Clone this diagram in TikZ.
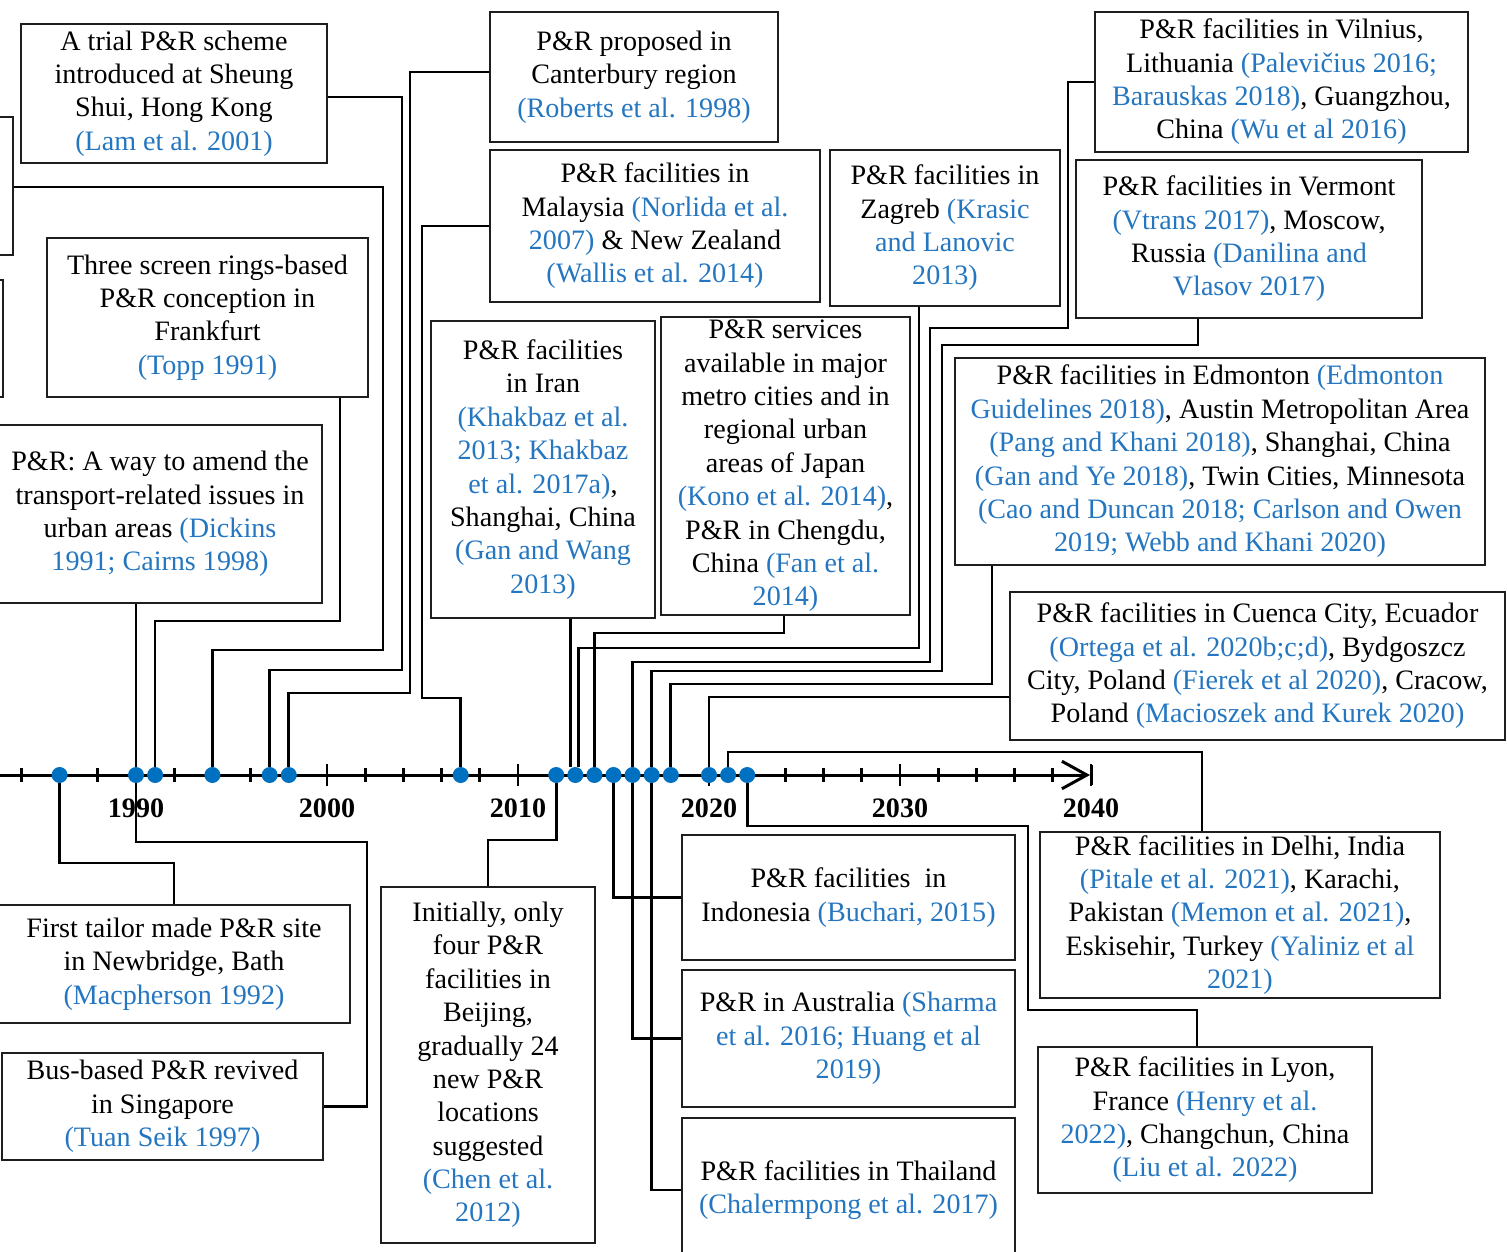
\documentclass[tikz,border=0pt]{standalone}
\usepackage{fontspec}
\setmainfont{Liberation Serif}
\usepackage{xcolor}
\usetikzlibrary{arrows.meta, calc}
\definecolor{prBlue}{RGB}{0,112,192}
\definecolor{prCite}{RGB}{36,118,192}
\definecolor{prInk}{RGB}{30,30,30}
\newcommand{\rf}[1]{\textcolor{prCite}{#1}}
\newcommand{\yx}[1]{136+(#1-1990)*19.1}

\begin{document}
\begin{tikzpicture}[
    x=0.02cm, y=-0.02cm,
    font=\fontsize{16}{19}\selectfont,
    ev/.style={draw=prInk, line width=1.1pt, align=center, inner sep=2pt},
    sz/.style 2 args={minimum width=#1*0.02cm, minimum height=#2*0.02cm},
    evdot/.style={circle, fill=prBlue, inner sep=0pt, minimum size=0.32cm},
    lnk/.style={line width=1.5pt, draw=black},
    yrlab/.style={font=\fontsize{16}{19}\selectfont\bfseries}
]
\useasboundingbox (0,0) rectangle (1507,1251);

% time axis
\draw[line width=1.7pt, -{Straight Barb[length=0.5cm, width=0.55cm, line width=1.7pt]}]
  (-20,775) -- (1090,775);
\draw[line width=1.7pt] (1091,765) -- (1091,785);
\foreach \yr in {1982,1984,...,2038}
  \draw[line width=1.5pt] ({\yx{\yr}},768) -- ({\yx{\yr}},782);
\foreach \yr in {1990,2000,2010,2020,2030,2040}{
  \draw[line width=1.5pt] ({\yx{\yr}},764) -- ({\yx{\yr}},786);
  \node[yrlab] (lab\yr) at ({\yx{\yr}},808) {\yr};
}
\foreach \yr in {1986,1990,1991,1994,1997,1998,2007,2012,2013,2014,
                 2015,2016,2017,2018,2020,2021,2022}
  \node[evdot] (d\yr) at ({\yx{\yr}},775) {};

% boxes above the axis
\node[ev, sz={133}{138}] (cutA) at (-53.5,186) {};
\node[ev, sz={123}{117}] (cutB) at (-58.5,338.5) {};
\node[ev, sz={306}{139}] (lam) at (174,93.5)
  {A trial P\&R scheme\\introduced at Sheung\\Shui, Hong Kong\\\rf{(Lam et al. 2001)}};
\node[ev, sz={288}{130}] (roberts) at (634,77)
  {P\&R proposed in\\Canterbury region\\\rf{(Roberts et al. 1998)}};
\node[ev, sz={330}{152}] (malay) at (655,226)
  {P\&R facilities in\\Malaysia \rf{(Norlida et al.}\\\rf{2007)} \& New Zealand\\\rf{(Wallis et al. 2014)}};
\node[ev, sz={230}{156}] (zagreb) at (945,228)
  {P\&R facilities in\\Zagreb \rf{(Krasic}\\\rf{and Lanovic}\\\rf{2013)}};
\node[ev, sz={373}{140}] (vilnius) at (1281.5,82)
  {P\&R facilities in Vilnius,\\Lithuania \rf{(Palevičius 2016;}\\\rf{Barauskas 2018)}, Guangzhou,\\China \rf{(Wu et al 2016)}};
\node[ev, sz={346}{158}] (vermont) at (1249,239)
  {P\&R facilities in Vermont\\\rf{(Vtrans 2017)}, Moscow,\\Russia \rf{(Danilina and}\\\rf{Vlasov 2017)}};
\node[ev, sz={321}{159}] (topp) at (207.5,317.5)
  {Three screen rings-based\\P\&R conception in\\Frankfurt\\\rf{(Topp 1991)}};
\node[ev, sz={224}{297}] (iran) at (543,469.5)
  {P\&R facilities\\in Iran\\\rf{(Khakbaz et al.}\\\rf{2013; Khakbaz}\\\rf{et al. 2017a)},\\Shanghai, China\\\rf{(Gan and Wang}\\\rf{2013)}};
\node[ev, sz={249}{298}] (japan) at (785.5,466)
  {P\&R services\\available in major\\metro cities and in\\regional urban\\areas of Japan\\\rf{(Kono et al. 2014)},\\P\&R in Chengdu,\\China \rf{(Fan et al.}\\\rf{2014)}};
\node[ev, sz={530}{207}] (edmonton) at (1220,461.5)
  {P\&R facilities in Edmonton \rf{(Edmonton}\\\rf{Guidelines 2018)}, Austin Metropolitan Area\\\rf{(Pang and Khani 2018)}, Shanghai, China\\\rf{(Gan and Ye 2018)}, Twin Cities, Minnesota\\\rf{(Cao and Duncan 2018; Carlson and Owen}\\\rf{2019; Webb and Khani 2020)}};
\node[ev, sz={324}{178}] (dickins) at (160,514)
  {P\&R: A way to amend the\\transport-related issues in\\urban areas \rf{(Dickins}\\\rf{1991; Cairns 1998)}};
\node[ev, sz={495}{148}] (cuenca) at (1257.5,666)
  {P\&R facilities in Cuenca City, Ecuador\\\rf{(Ortega et al. 2020b;c;d)}, Bydgoszcz\\City, Poland \rf{(Fierek et al 2020)}, Cracow,\\Poland \rf{(Macioszek and Kurek 2020)}};

% boxes below the axis
\node[ev, sz={352}{118}] (macph) at (174,964)
  {First tailor made P\&R site\\in Newbridge, Bath\\\rf{(Macpherson 1992)}};
\node[ev, sz={321}{107}] (tuan) at (162.5,1106.5)
  {Bus-based P\&R  revived\\in Singapore\\\rf{(Tuan Seik 1997)}};
\node[ev, sz={214}{356}] (beijing) at (488,1065)
  {Initially, only\\four P\&R\\facilities in\\Beijing,\\gradually 24\\new P\&R\\locations\\suggested\\\rf{(Chen et al.}\\\rf{2012)}};
\node[ev, sz={333}{125}] (indon) at (848.5,897.5)
  {P\&R facilities\ \ in\\Indonesia \rf{(Buchari, 2015)}};
\node[ev, sz={333}{137}] (austr) at (848.5,1038.5)
  {P\&R in Australia \rf{(Sharma}\\\rf{et al. 2016; Huang et al}\\\rf{2019)}};
\node[ev, sz={333}{144}] (thai) at (848.5,1190)
  {P\&R facilities in Thailand\\\rf{(Chalermpong et al. 2017)}};
\node[ev, sz={400}{166}] (delhi) at (1240,915)
  {P\&R facilities in Delhi, India\\\rf{(Pitale et al. 2021)}, Karachi,\\Pakistan \rf{(Memon et al. 2021)},\\Eskisehir, Turkey \rf{(Yaliniz et al}\\\rf{2021)}};
\node[ev, sz={334}{146}] (lyon) at (1205,1120)
  {P\&R facilities in Lyon,\\France \rf{(Henry et al.}\\\rf{2022)}, Changchun, China\\\rf{(Liu et al. 2022)}};

% links above
\draw[lnk] (d1990) -- (d1990 |- dickins.south);
\draw[lnk] (d1991) |- (340,621) -- (340,0 |- topp.south);
\draw[lnk] (d1994) |- (383,650) |- (cutA.east |- 0,187);
\draw[lnk] (d1997) |- (402,670) |- (lam.east |- 0,97);
\draw[lnk] (d1998) |- (410,693) |- (roberts.west |- 0,72);
\draw[lnk] (d2007) |- (422,698) |- (malay.west);
\draw[lnk] ([xshift=-0.1cm]d2013.north) -- ([xshift=-0.1cm]d2013.north |- iran.south);
\draw[lnk] ([xshift=0.06cm]d2013.north) |- (919,648) -- (919,0 |- zagreb.south);
\draw[lnk] (d2014) |- (784,633) -- (784,0 |- japan.south);
\draw[lnk] (d2016) |- (930,662) |- (1068,328) |- (vilnius.west |- 0,82);
\draw[lnk] (d2017) |- (942,671) |- (1198,345) -- (1198,0 |- vermont.south);
\draw[lnk] (d2018) |- (992,684) -- (992,0 |- edmonton.south);
\draw[lnk] (d2020) |- (cuenca.west |- 0,697);
\draw[lnk] (d2021) |- (1202,752) -- (1202,0 |- delhi.north);

% links below
\draw[lnk] (d1986) |- (macph.north |- 0,863) -- (macph.north);
\draw[lnk] (d1990) |- (367,842) |- (tuan.east);
\draw[lnk] (d2012) |- (beijing.north |- 0,840) -- (beijing.north);
\draw[lnk] (d2015) |- (indon.west);
\draw[lnk] (d2016) |- (austr.west);
\draw[lnk] (d2017) |- (thai.west);
\draw[lnk] (d2022) |- (1028,826) |- (1197,1010) -- (1197,0 |- lyon.north);
\end{tikzpicture}
\end{document}
